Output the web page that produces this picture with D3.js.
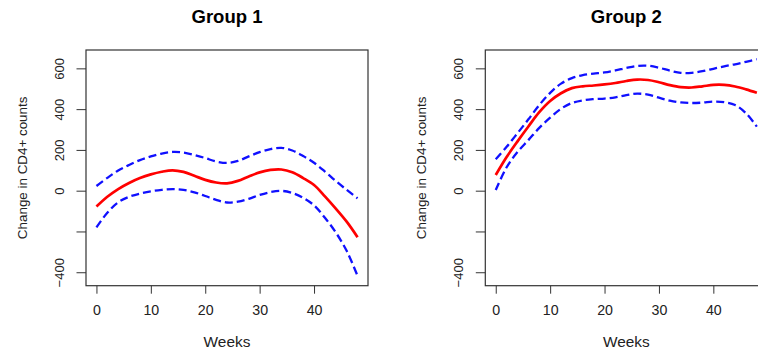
<!DOCTYPE html>
<html lang="en">
<head>
  <meta charset="UTF-8">
  <title>Change in CD4+ counts by group</title>
  <script src="https://d3js.org/d3.v7.min.js"></script>
  <style>
    body { margin: 0; background: #fff; }
    svg { display: block; font-family: "Liberation Sans", Arial, sans-serif; }
    .axis path { display: none; }
    .axis line { stroke: #333; stroke-width: 1; }
    .axis text { fill: #222; }
    .box { fill: none; stroke: #333; stroke-width: 1.2; }
    .fit { fill: none; stroke: #ff0000; stroke-width: 2.7; }
    .band { fill: none; stroke: #1010ff; stroke-width: 2.3; stroke-dasharray: 8 4; }
  </style>
</head>
<body>
  <svg id="chart" width="758" height="356"></svg>

  <script>
    const weeks = [0, 2, 4, 6, 8, 10, 12, 14, 16, 18, 20, 22, 24, 26, 28, 30, 32, 34, 36, 38, 40, 42, 44, 46, 48];

    // Group 1
    const g1Fit   = [-78, -30, 8, 38, 62, 80, 93, 100, 92, 73, 53, 40, 36, 48, 70, 90, 102, 104, 90, 62, 28, -28, -88, -152, -228];
    const g1Upper = [23, 63, 99, 126, 150, 168, 182, 190, 187, 175, 160, 143, 136, 146, 168, 189, 204, 210, 197, 170, 137, 94, 48, 4, -37];
    const g1Lower = [-180, -108, -57, -30, -14, -3, 4, 8, 4, -8, -26, -45, -58, -54, -40, -21, -7, -1, -11, -35, -72, -133, -205, -295, -418];

    // Group 2
    const g2Fit   = [77, 165, 242, 315, 385, 440, 478, 503, 512, 516, 521, 528, 538, 545, 543, 532, 518, 508, 506, 512, 519, 519, 511, 497, 480];
    const g2Upper = [154, 215, 282, 350, 420, 480, 525, 552, 567, 574, 580, 590, 602, 612, 613, 603, 589, 578, 578, 586, 598, 610, 620, 632, 645];
    const g2Lower = [3, 115, 190, 248, 308, 358, 402, 430, 443, 449, 452, 458, 469, 476, 471, 456, 442, 433, 430, 432, 437, 434, 420, 380, 314];

    const xTicks = [0, 10, 20, 30, 40];
    const yTicks = [-400, -200, 0, 200, 400, 600];
    const titles = ["Group 1", "Group 2"];

    const svg = d3.select("#chart");
    const plotTop = 50, plotBottom = 285.7;

    const panels = [
      { left: 86,    right: 368,   title: titles[0], fit: g1Fit, upper: g1Upper, lower: g1Lower },
      { left: 485.3, right: 767.3, title: titles[1], fit: g2Fit, upper: g2Upper, lower: g2Lower }
    ];

    panels.forEach(p => {
      const x = d3.scaleLinear().domain([-1.92, 49.92]).range([p.left, p.right]);
      const y = d3.scaleLinear().domain([-466, 690]).range([plotBottom, plotTop]);
      const g = svg.append("g");

      // x axis (ticks below the box)
      const xa = g.append("g")
        .attr("class", "axis")
        .attr("transform", `translate(0,${plotBottom})`)
        .call(d3.axisBottom(x).tickValues(xTicks).tickSize(8).tickPadding(11.3));
      xa.selectAll("text").attr("dy", "0.71em").style("font-size", "14.2px");

      // y axis, labels parallel to the axis; R drops the -200 label (overlap)
      const ya = g.append("g")
        .attr("class", "axis")
        .attr("transform", `translate(${p.left},0)`)
        .call(d3.axisLeft(y).tickValues(yTicks).tickSize(9.5)
          .tickFormat(d => d === -200 ? "" : (d < 0 ? "\u2212" + Math.abs(d) : d)));
      ya.selectAll("text")
        .attr("transform", "rotate(-90)")
        .attr("x", 0)
        .attr("y", -22.5)
        .attr("dy", 0)
        .attr("text-anchor", "middle")
        .style("font-size", "13px");

      g.append("rect")
        .attr("class", "box")
        .attr("x", p.left).attr("y", plotTop)
        .attr("width", p.right - p.left).attr("height", plotBottom - plotTop);

      const line = vals => d3.line()
        .x((d, i) => x(weeks[i]))
        .y(d => y(d))
        .curve(d3.curveCatmullRom.alpha(0.5))(vals);

      g.append("path").attr("class", "band").attr("d", line(p.upper));
      g.append("path").attr("class", "band").attr("d", line(p.lower));
      g.append("path").attr("class", "fit").attr("d", line(p.fit));

      const cx = (p.left + p.right) / 2;
      g.append("text")
        .attr("x", cx).attr("y", 23)
        .attr("text-anchor", "middle")
        .style("font-size", "18.5px").style("font-weight", "bold")
        .text(p.title);

      g.append("text")
        .attr("x", cx).attr("y", 347)
        .attr("text-anchor", "middle")
        .style("font-size", "15.4px").style("fill", "#222")
        .text("Weeks");

      g.append("text")
        .attr("transform", `translate(${p.left - 59.5},${(plotTop + plotBottom) / 2}) rotate(-90)`)
        .attr("text-anchor", "middle")
        .style("font-size", "13.4px").style("fill", "#222")
        .text("Change in CD4+ counts");
    });
  </script>
</body>
</html>
